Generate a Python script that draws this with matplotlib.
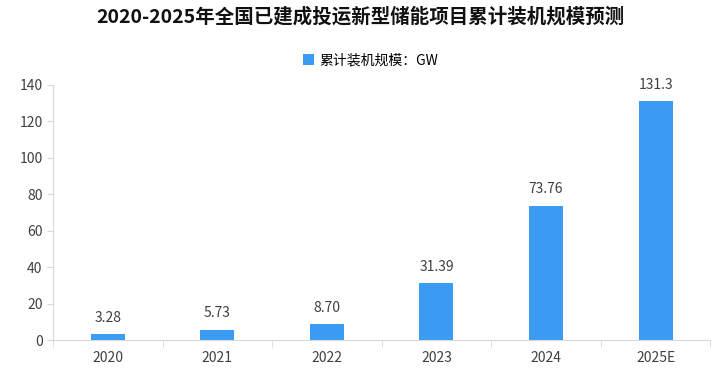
import matplotlib
matplotlib.use("Agg")
import matplotlib.pyplot as plt
import numpy as np

plt.rcParams['font.family'] = ['Noto Sans CJK SC', 'DejaVu Sans']

years = ['2020', '2021', '2022', '2023', '2024', '2025E']
capacity = [3.28, 5.73, 8.70, 31.39, 73.76, 131.3]
labels = ['3.28', '5.73', '8.70', '31.39', '73.76', '131.3']

BAR_COLOR = '#3b9bf2'
AXIS_COLOR = '#d9d9d9'
TEXT_COLOR = '#404040'

fig = plt.figure(figsize=(7.13, 3.78), dpi=100)
ax = fig.add_axes([0.0743, 0.1005, 0.922, 0.675])

x = np.arange(len(years))
ax.bar(x, capacity, width=0.31, color=BAR_COLOR, label='累计装机规模：GW', zorder=2)

for xi, v, s in zip(x, capacity, labels):
    ax.text(xi, v + 5, s, ha='center', va='bottom', fontsize=10, color=TEXT_COLOR)

ax.set_xlim(-0.5, len(years) - 0.5)
ax.set_ylim(0, 140)
ax.set_yticks(range(0, 141, 20))
ax.set_xticks(x)
ax.set_xticklabels(years, fontsize=10, color=TEXT_COLOR)
ax.tick_params(axis='x', length=0, pad=8)
ax.set_xticks(np.arange(-0.5, len(years), 1), minor=True)
ax.tick_params(axis='x', which='minor', length=5, color=AXIS_COLOR)
ax.tick_params(axis='y', labelsize=10, colors=TEXT_COLOR, length=4, color=AXIS_COLOR)

for side in ['top', 'right']:
    ax.spines[side].set_visible(False)
ax.spines['left'].set_color(AXIS_COLOR)
ax.spines['bottom'].set_color(AXIS_COLOR)

fig.text(0.505, 0.955, '2020-2025年全国已建成投运新型储能项目累计装机规模预测',
         ha='center', va='center', fontsize=14, fontweight='bold', color='#111111')
fig.legend(loc='center', bbox_to_anchor=(0.52, 0.84), frameon=False, fontsize=10,
           handlelength=0.8, handleheight=0.8, handletextpad=0.4)

fig.savefig('out.png', dpi=100)
